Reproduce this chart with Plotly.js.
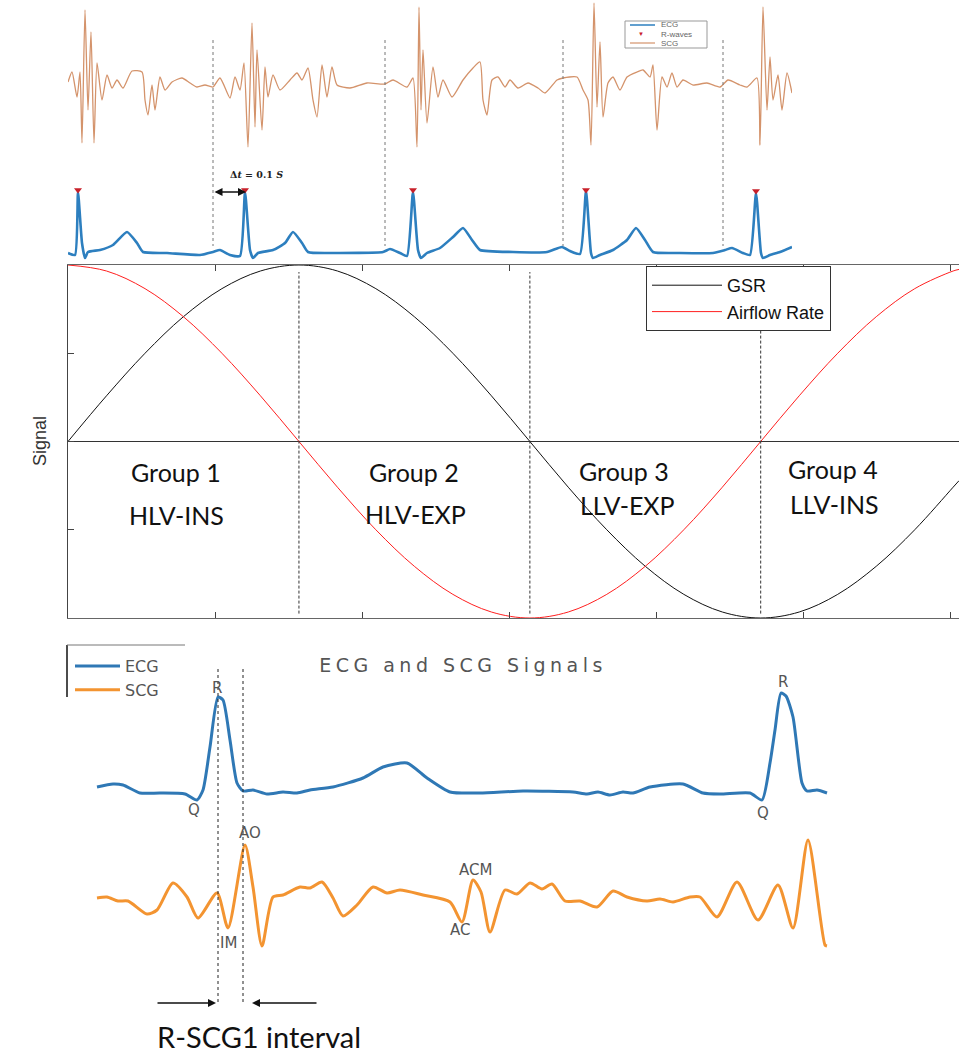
<!DOCTYPE html>
<html><head><meta charset="utf-8">
<script src="https://cdn.plot.ly/plotly-3.0.1.min.js"></script>
<style>html,body{margin:0;padding:0;background:#fff;} #chart{width:959px;height:1053px;} .gtitle{letter-spacing:4.5px;}</style>
</head><body><div id="chart"></div>
<script>
// ---------- Panel 1: SCG / ECG strip (sample index, amplitude a.u.) ----------
const scgTopSample = [
0,4,9,12,14,17,20,23,26,29,34,39,44,49,55,64,74,77,80,84,87,92,97,104,114,122,129,137,145,
152,162,167,172,176,180,184,187,189,194,197,200,205,212,222,229,234,240,245,249,254,259,264,269,282,299,317,
325,339,345,349,351,353,355,359,365,370,375,384,395,405,412,415,419,424,430,437,442,450,460,470,477,489,495,
509,515,520,523,526,529,532,535,540,545,552,559,569,575,582,585,589,594,599,604,609,615,625,639,652,
660,672,679,689,692,695,699,702,705,710,714,719,724];
const scgTopAmp = [
3,13,-12,13,-58,75,-25,53,-58,22,-15,10,-3,5,-3,14,13,-15,-30,0,-25,8,-5,3,7,2,-2,0,-2,
7,-13,8,-5,22,-62,62,-42,35,-45,18,-12,10,-5,5,12,5,17,-15,-32,20,-12,18,0,-3,2,1,
5,-2,7,-62,78,-25,35,-38,18,-12,5,-12,5,17,23,-15,-30,5,8,-2,5,-3,2,-3,-8,5,7,
8,-5,-15,-60,82,-22,43,-32,2,8,-5,8,13,15,8,20,-45,8,-2,12,-2,5,0,2,-2,
5,0,-2,7,-60,78,-25,28,-15,10,-25,12,-8];
const ecgTopSample = [0,7,10,14,17,20,32,45,59,69,75,99,132,145,152,162,172,177,182,185,190,205,217,225,234,240,265,315,322,332,339,345,350,353,359,372,385,395,404,412,445,479,494,502,512,518,523,525,532,545,559,568,577,585,612,645,657,664,675,682,688,693,695,702,712,724];
const ecgTopAmp = [0,-2,61,10,-5,1,3,8,21,10,1,0,-2,1,3,-2,-3,61,3,-5,0,3,10,21,10,1,0,1,4,0,-3,61,3,-5,0,5,16,25,13,3,1,1,6,2,-1,62,0,-5,-2,3,13,25,13,1,0,0,3,5,0,-2,60,0,-5,-2,1,6];
const rWaveSample = [10,177,345,518,688];
const rWaveAmp = [63,63,63,63,62];
const splitSample = [145,317,495,655];

// ---------- Panel 2: GSR / Airflow over one breathing cycle (rad) ----------
const phase = [0,0.262,0.524,0.785,1.047,1.309,1.571,1.833,2.094,2.356,2.618,2.880,3.142,3.403,3.665,3.927,4.189,4.451,4.712,4.974,5.236,5.498,5.760,6.021,6.061];
const gsr = [0,0.259,0.5,0.707,0.866,0.966,1,0.966,0.866,0.707,0.5,0.259,0,-0.259,-0.5,-0.707,-0.866,-0.966,-1,-0.966,-0.866,-0.707,-0.5,-0.259,-0.222];
const airflow = [1,0.966,0.866,0.707,0.5,0.259,0,-0.259,-0.5,-0.707,-0.866,-0.966,-1,-0.966,-0.866,-0.707,-0.5,-0.259,0,0.259,0.5,0.707,0.866,0.966,0.975];
const groupPhase = [1.571,3.142,4.712];
const groupNames = ['Group 1','Group 2','Group 3','Group 4'];
const groupTypes = ['HLV-INS','HLV-EXP','LLV-EXP','LLV-INS'];

// ---------- Panel 3: single beat ECG / SCG ----------
const ecgBeatSample = [0,16,26,43,63,88,100,106,113,121,126,133,140,146,156,170,186,200,213,236,266,286,310,330,353,383,426,476,490,501,513,526,536,553,586,606,623,653,665,673,678,684,689,696,705,710,720,730];
const ecgBeatAmp = [6,9,8,0,0,-1,-7,3,46,96,93,53,10,2,3,-1,1,0,3,6,15,26,30,15,1,0,2,1,-1,1,-2,1,0,6,9,0,-1,0,-7,30,63,100,97,76,10,2,3,0];
const scgBeatSample = [0,10,21,31,50,60,76,90,101,120,131,148,156,165,176,186,203,213,225,236,246,260,276,290,303,326,353,365,376,384,393,408,420,433,445,455,468,483,500,516,530,550,563,576,593,603,620,640,661,681,696,711,728,730];
const scgBeatAmp = [0,1,-3,-3,-16,-12,15,1,-20,5,-30,53,11,-48,1,3,11,10,16,0,-18,-7,11,5,8,3,-4,-24,18,6,-34,8,4,15,9,14,-3,-3,-9,7,1,-3,-1,-4,1,1,-19,16,-22,13,-30,58,-47,-48];
const intervalSample = [121,146];

// ---------- layout helpers (pixel -> paper) ----------
const W = 959, H = 1053;
const px = x => x / W;
const py = y => 1 - y / H;
const hd = (a, b) => [a / W, b / W];
const vd = (top, bot) => [1 - bot / H, 1 - top / H];

const tan = '#d4936b', blue1 = '#2d7fbf', blue3 = '#2f78b5', orange3 = '#f39431';

const traces = [
  {x: scgTopSample, y: scgTopAmp, xaxis: 'x', yaxis: 'y', mode: 'lines', name: 'SCG', showlegend: false,
   line: {color: tan, width: 1.3, shape: 'spline', smoothing: 0.6}},
  {x: ecgTopSample, y: ecgTopAmp, xaxis: 'x', yaxis: 'y2', mode: 'lines', name: 'ECG', showlegend: false,
   line: {color: blue1, width: 2.6, shape: 'spline', smoothing: 0.5}},
  {x: rWaveSample, y: rWaveAmp, xaxis: 'x', yaxis: 'y2', mode: 'markers', name: 'R-waves', showlegend: false,
   marker: {symbol: 'triangle-down', color: '#c8202a', size: 7}},
  {x: phase, y: gsr, xaxis: 'x2', yaxis: 'y3', mode: 'lines', name: 'GSR', legend: 'legend2',
   line: {color: '#111', width: 1, shape: 'spline'}},
  {x: phase, y: airflow, xaxis: 'x2', yaxis: 'y3', mode: 'lines', name: 'Airflow Rate', legend: 'legend2',
   line: {color: '#ff1f1f', width: 1, shape: 'spline'}},
  {x: ecgBeatSample, y: ecgBeatAmp, xaxis: 'x3', yaxis: 'y4', mode: 'lines', name: 'ECG', legend: 'legend3',
   line: {color: blue3, width: 3, shape: 'spline', smoothing: 0.6}},
  {x: scgBeatSample, y: scgBeatAmp, xaxis: 'x3', yaxis: 'y5', mode: 'lines', name: 'SCG', legend: 'legend3',
   line: {color: orange3, width: 3, shape: 'spline', smoothing: 0.7}}
];

const hidden = {visible: false, fixedrange: true};

const shapes = [];
const annotations = [];
const txt = (x, y, text, font, extra) => annotations.push(Object.assign({xref: 'paper', yref: 'paper', x: px(x), y: py(y),
  xanchor: 'center', yanchor: 'middle', text: text, showarrow: false, font: font}, extra || {}));

// panel 1 dashed split lines
splitSample.forEach(s => shapes.push({type: 'line', xref: 'x', yref: 'paper', x0: s, x1: s, y0: py(40), y1: py(246),
  line: {color: '#777', width: 1, dash: 'dot'}}));
// panel 1 manual mini legend
shapes.push({type: 'rect', xref: 'paper', yref: 'paper', x0: px(625), x1: px(707), y0: py(21), y1: py(48), line: {color: '#999', width: 1}, fillcolor: 'rgba(255,255,255,0.9)'});
shapes.push({type: 'line', xref: 'paper', yref: 'paper', x0: px(630), x1: px(655), y0: py(25), y1: py(25), line: {color: blue1, width: 1.5}});
shapes.push({type: 'line', xref: 'paper', yref: 'paper', x0: px(630), x1: px(655), y0: py(43), y1: py(43), line: {color: tan, width: 1.2}});
txt(641, 34, '▼', {size: 6, color: '#c8202a'});
[['ECG', 25], ['R-waves', 34], ['SCG', 43]].forEach(([t, y]) => txt(659, y, t, {family: 'Liberation Sans', size: 8, color: '#666'}, {xanchor: 'left'}));
// delta t
txt(256, 175, '<b>Δ<i>t</i> = 0.1 <i>S</i></b>', {family: 'DejaVu Serif', size: 9.5, color: '#222'});
annotations.push({xref: 'x', yref: 'paper', x: 178, y: py(192), ax: -33, ay: 0, text: '', showarrow: true, arrowhead: 2, arrowside: 'end+start', arrowsize: 1, arrowwidth: 1.6, arrowcolor: '#111'});

// panel 2 dashed lines
groupPhase.forEach(p => shapes.push({type: 'line', xref: 'x2', yref: 'y3', x0: p, x1: p, y0: -0.975, y1: 0.96, line: {color: '#333', width: 1, dash: '3px,2px'}}));
// group labels
const gx = [176, 414, 624, 833], gx2 = [176, 415, 627, 834], gy = [472, 472, 471, 469], gy2 = [515, 514, 505, 504];
groupNames.forEach((g, i) => {
  txt(gx[i], gy[i], g, {family: 'Lato', size: 25, color: '#111'});
  txt(gx2[i], gy2[i], groupTypes[i], {family: 'Lato', size: 25, color: '#111'});
});
txt(40, 441, 'Signal', {family: 'Liberation Sans', size: 18, color: '#333'}, {textangle: -90});

// panel 3 interval lines + arrows
intervalSample.forEach(s => shapes.push({type: 'line', xref: 'x3', yref: 'paper', x0: s, x1: s, y0: py(669), y1: py(1003), line: {color: '#222', width: 1, dash: 'dot'}}));
annotations.push({xref: 'x3', yref: 'paper', x: 119, y: py(1003), ax: -60, ay: 0, text: '', showarrow: true, arrowhead: 2, arrowsize: 1, arrowwidth: 1.6, arrowcolor: '#111'});
annotations.push({xref: 'x3', yref: 'paper', x: 155, y: py(1003), ax: 66, ay: 0, text: '', showarrow: true, arrowhead: 2, arrowsize: 1, arrowwidth: 1.6, arrowcolor: '#111'});
txt(259, 1036, 'R-SCG1 interval', {family: 'Lato', size: 29, color: '#111'});
// wave labels
[['R', 217, 688], ['Q', 194, 810], ['R', 783, 682], ['Q', 763, 813], ['AO', 250, 833], ['IM', 228, 943], ['ACM', 475, 870], ['AC', 460, 930]]
  .forEach(([t, x, y]) => txt(x, y, t, {family: 'DejaVu Sans', size: 15, color: '#555'}));
// legend 3 partial frame
shapes.push({type: 'line', xref: 'paper', yref: 'paper', x0: px(67), x1: px(67), y0: py(645), y1: py(697), line: {color: '#111', width: 1.5}});
shapes.push({type: 'line', xref: 'paper', yref: 'paper', x0: px(67), x1: px(185), y0: py(645), y1: py(645), line: {color: '#777', width: 1}});

const layout = {
  width: W, height: H, margin: {l: 0, r: 0, t: 0, b: 0},
  paper_bgcolor: '#fff', plot_bgcolor: 'rgba(0,0,0,0)', showlegend: true,
  title: {text: 'ECG and SCG Signals', x: px(463), xanchor: 'center', y: py(665), yanchor: 'middle', yref: 'paper',
          font: {family: 'DejaVu Sans', size: 19, color: '#555'}},
  xaxis: Object.assign({domain: hd(68, 792), range: [0, 724], anchor: 'y'}, hidden),
  yaxis: Object.assign({domain: vd(0, 160), range: [-75, 85], anchor: 'x'}, hidden),
  yaxis2: Object.assign({domain: vd(165, 262), range: [-9, 88], anchor: 'x'}, hidden),
  xaxis2: {domain: hd(68, 959), range: [0, 6.061], anchor: 'y3', showline: true, mirror: 'ticks', linecolor: '#666', linewidth: 1,
           ticks: 'inside', ticklen: 6, tickcolor: '#444', tickvals: [0, 1, 2, 3, 4, 5, 6], showticklabels: false,
           showgrid: false, zeroline: false, fixedrange: true},
  yaxis3: {domain: vd(265, 618), range: [-1, 1], anchor: 'x2', showline: true, linecolor: '#444', linewidth: 1,
           ticks: 'inside', ticklen: 6, tickcolor: '#444', tickvals: [-1, -0.5, 0, 0.5, 1], showticklabels: false,
           showgrid: false, zeroline: true, zerolinecolor: '#333', zerolinewidth: 1, fixedrange: true},
  xaxis3: Object.assign({domain: [0, 1], range: [-97, 862], anchor: 'y4'}, hidden),
  yaxis4: Object.assign({domain: vd(680, 820), range: [-27, 113], anchor: 'x3'}, hidden),
  yaxis5: Object.assign({domain: vd(820, 960), range: [-62, 78], anchor: 'x3'}, hidden),
  legend2: {x: px(646), y: py(266), xanchor: 'left', yanchor: 'top', bgcolor: '#fff', bordercolor: '#333', borderwidth: 1,
            font: {family: 'Liberation Sans', size: 18, color: '#111'}, itemwidth: 70, tracegroupgap: 0},
  legend3: {x: px(70), y: py(649), xanchor: 'left', yanchor: 'top', bgcolor: 'rgba(0,0,0,0)', borderwidth: 0,
            font: {family: 'DejaVu Sans', size: 16, color: '#555'}, itemwidth: 45, tracegroupgap: 0},
  shapes: shapes, annotations: annotations
};

Plotly.newPlot('chart', traces, layout, {displayModeBar: false, staticPlot: true});
</script></body></html>
